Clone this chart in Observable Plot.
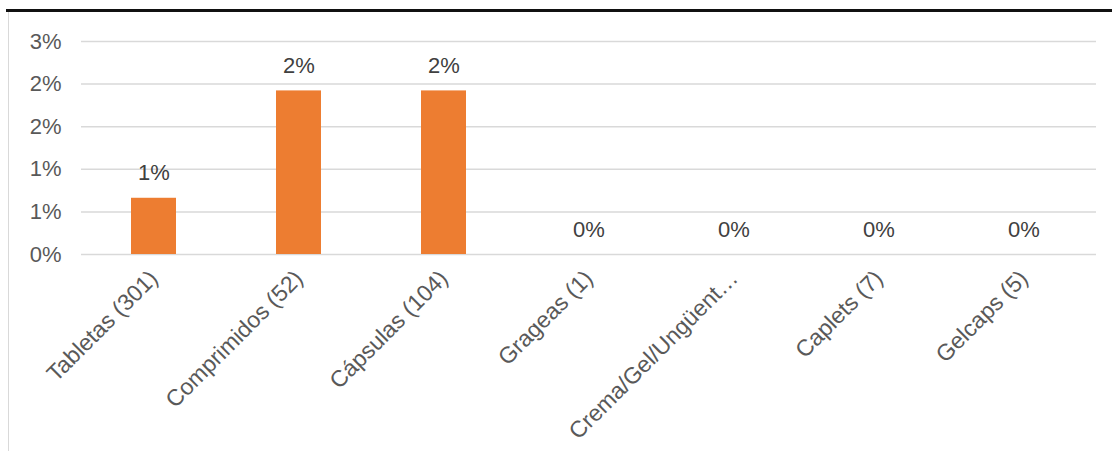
<!DOCTYPE html>
<html>
<head>
<meta charset="utf-8">
<script src="https://cdn.jsdelivr.net/npm/d3@7"></script>
<script src="https://cdn.jsdelivr.net/npm/@observablehq/plot@0.6"></script>
<style>
  html, body { margin: 0; padding: 0; background: #fff; }
  #wrap { position: relative; width: 1112px; height: 451px; overflow: hidden; font-family: "Liberation Sans", Arial, sans-serif; }
  #wrap svg { position: absolute; left: 0; top: 0; }
  .topline { position: absolute; left: 6px; right: 0; top: 9px; height: 2.5px; background: #111; }
  .frame { position: absolute; left: 8px; top: 11px; right: -4px; bottom: -4px; border: 1.5px solid #d9d9d9; }
</style>
</head>
<body>
<div id="wrap">
  <div class="frame"></div>
  <div class="topline"></div>
</div>
<script>
// Dosage forms with their sample sizes
const categories = ["Tabletas (301)", "Comprimidos (52)", "Cápsulas (104)", "Grageas (1)", "Crema/Gel/Ungüent…", "Caplets (7)", "Gelcaps (5)"];
// Share of each form (fraction)
const shares = [0.0066, 0.0192, 0.0192, 0, 0, 0, 0];
// Y axis ticks and their printed labels
const yTicks = [0, 0.005, 0.01, 0.015, 0.02, 0.025];
const yTickLabels = ["0%", "1%", "1%", "2%", "2%", "3%"];

const rows = categories.map((c, i) => ({ category: c, share: shares[i] }));
const pct = d3.format(".0%");

const chart = Plot.plot({
  width: 1112,
  height: 451,
  marginTop: 41,
  marginBottom: 197,
  marginLeft: 81,
  marginRight: 16,
  style: { fontFamily: "'Liberation Sans', Arial, sans-serif", background: "transparent" },
  x: { domain: categories, paddingInner: 0.69, paddingOuter: 0.345 },
  y: { domain: [0, 0.025] },
  marks: [
    Plot.gridY(yTicks, { stroke: "#d9d9d9", strokeOpacity: 1, strokeWidth: 1.5 }),
    Plot.barY(rows, { x: "category", y: "share", fill: "#ed7d31" }),
    Plot.text(rows, { x: "category", y: "share", text: d => pct(d.share), dy: -25, fontSize: 22, fill: "#404040" }),
    Plot.axisY({ ticks: yTicks, tickFormat: (d, i) => yTickLabels[i], tickSize: 0, tickPadding: 20, fontSize: 22, fill: "#595959", label: null }),
    Plot.axisX({ tickRotate: -45, tickSize: 0, tickPadding: 20, fontSize: 23, fill: "#595959", label: null })
  ]
});
document.getElementById("wrap").appendChild(chart);
</script>
</body>
</html>
